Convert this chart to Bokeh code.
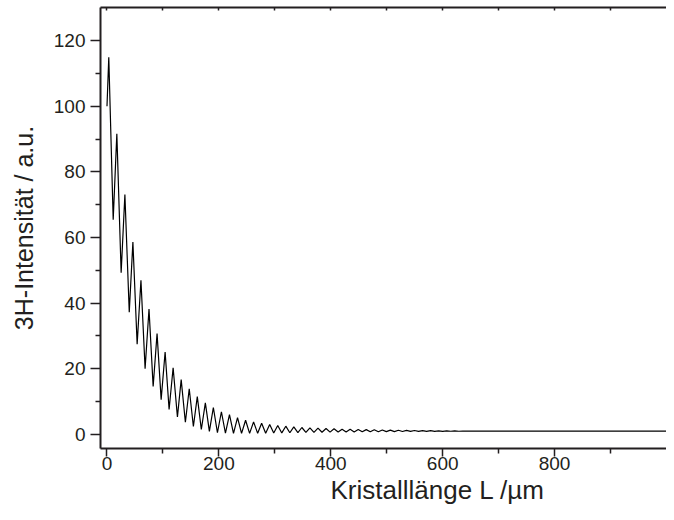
from bokeh.plotting import figure
from bokeh.models import FixedTicker, LinearAxis, Range1d, Title, ColumnDataSource
from bokeh.embed import file_html
from bokeh.resources import INLINE

# Data (extrema of the oscillating 3H signal)
start_L = [0.0]
start_I = [100.0]

peak_L = [3.2, 17.6, 32.0, 46.3, 60.7, 75.1, 89.5, 103.9, 118.2, 132.6, 147.0, 161.4,
          175.8, 190.1, 204.5, 218.9, 233.3, 247.7, 262.0, 276.4, 290.8, 305.2, 319.6,
          333.9, 348.3, 362.7, 377.1, 391.5, 405.8, 420.2, 434.6, 449.0, 463.4, 477.7,
          492.1, 506.5, 520.9, 535.3, 549.6, 564.0, 578.4, 592.8, 607.2, 621.5, 635.9]
peak_I = [114.9, 91.6, 73.1, 58.6, 47.0, 38.2, 30.7, 25.1, 20.3, 16.7, 13.9, 11.5,
          9.6, 8.2, 6.9, 6.0, 5.1, 4.3, 3.8, 3.4, 3.0, 2.7, 2.5,
          2.3, 2.1, 2.0, 1.9, 1.8, 1.7, 1.6, 1.55, 1.5, 1.45, 1.4,
          1.35, 1.3, 1.26, 1.22, 1.18, 1.15, 1.12, 1.09, 1.07, 1.05, 1.03]

trough_L = [11.1, 25.3, 39.8, 53.9, 68.1, 82.5, 96.8, 111.0, 125.9, 140.1, 154.4, 168.6,
            183.0, 197.4, 211.7, 226.1, 240.5, 254.9, 269.3, 283.6, 298.0, 312.4, 326.8,
            341.2, 355.5, 369.9, 384.3, 398.7, 413.1, 427.4, 441.8, 456.2, 470.6, 485.0,
            499.3, 513.7, 528.1, 542.5, 556.9, 571.2, 585.6, 600.0, 614.4, 628.8]
trough_I = [65.4, 49.3, 37.2, 27.5, 20.0, 14.6, 10.6, 7.6, 5.3, 3.7, 2.4, 1.5,
            0.9, 0.5, 0.35, 0.3, 0.3, 0.3, 0.32, 0.35, 0.4, 0.45, 0.5,
            0.55, 0.6, 0.63, 0.66, 0.69, 0.72, 0.74, 0.76, 0.78, 0.8, 0.82,
            0.84, 0.86, 0.88, 0.9, 0.91, 0.92, 0.93, 0.94, 0.95, 0.96]

tail_L = [645.0, 1100.0]
tail_I = [1.0, 1.0]

x_major = [0, 200, 400, 600, 800]
x_minor = [100, 300, 500, 700, 900]
x_top = [0, 100, 200, 300, 400, 500, 600, 700, 800, 900]
y_major = [0, 20, 40, 60, 80, 100, 120]
y_minor = [10, 30, 50, 70, 90, 110]

x_label = "Kristalllänge L /µm"
y_label = "3H-Intensität / a.u."

pts = sorted(zip(start_L + peak_L + trough_L + tail_L,
                 start_I + peak_I + trough_I + tail_I))
src = ColumnDataSource(dict(L=[a for a, b in pts], I=[b for a, b in pts]))

INK = "#231f20"
FONT = "Liberation Sans"

p = figure(width=666, height=504, output_backend="svg", toolbar_location=None,
           x_range=Range1d(-11.6, 1000), y_range=Range1d(-4.3, 130.1),
           min_border_left=100, min_border_right=0, min_border_top=7,
           min_border_bottom=0)
p.outline_line_color = None
p.xgrid.grid_line_color = None
p.ygrid.grid_line_color = None
p.background_fill_color = "white"
p.border_fill_color = "white"

p.line("L", "I", source=src, line_color="black", line_width=1.2)

xa = p.xaxis[0]
xa.ticker = FixedTicker(ticks=x_major, minor_ticks=x_minor)
ya = p.yaxis[0]
ya.ticker = FixedTicker(ticks=y_major, minor_ticks=y_minor)
for ax in (xa, ya):
    ax.axis_line_width = 2
    ax.axis_line_color = INK
    ax.major_tick_line_color = INK
    ax.minor_tick_line_color = INK
    ax.major_tick_line_width = 1.5
    ax.minor_tick_line_width = 1.5
    ax.major_tick_in = 0
    ax.major_tick_out = 10
    ax.minor_tick_in = 0
    ax.minor_tick_out = 5
    ax.major_label_text_font = FONT
    ax.major_label_text_font_size = "19px"
    ax.major_label_text_color = INK
ya.major_label_standoff = 5
xa.major_tick_out = 8
xa.major_label_standoff = 0
ya.axis_label = y_label
ya.axis_label_text_font = FONT
ya.axis_label_text_font_size = "25px"
ya.axis_label_text_font_style = "normal"
ya.axis_label_text_color = INK
ya.axis_label_standoff = 13

top = LinearAxis(ticker=FixedTicker(ticks=x_top, minor_ticks=[]),
                 major_label_text_font_size="1px", major_label_text_color=None,
                 major_label_standoff=0,
                 major_tick_in=3, major_tick_out=0, minor_tick_in=0, minor_tick_out=0,
                 axis_line_width=2, axis_line_color=INK, major_tick_line_color=INK,
                 major_tick_line_width=1.5)
p.add_layout(top, "above")

t = Title(text=x_label, align="left", offset=230, text_font=FONT,
          text_font_size="26px", text_font_style="normal", text_color=INK, standoff=0)
p.add_layout(t, "below")

open("out.html", "w").write(file_html(p, INLINE))
